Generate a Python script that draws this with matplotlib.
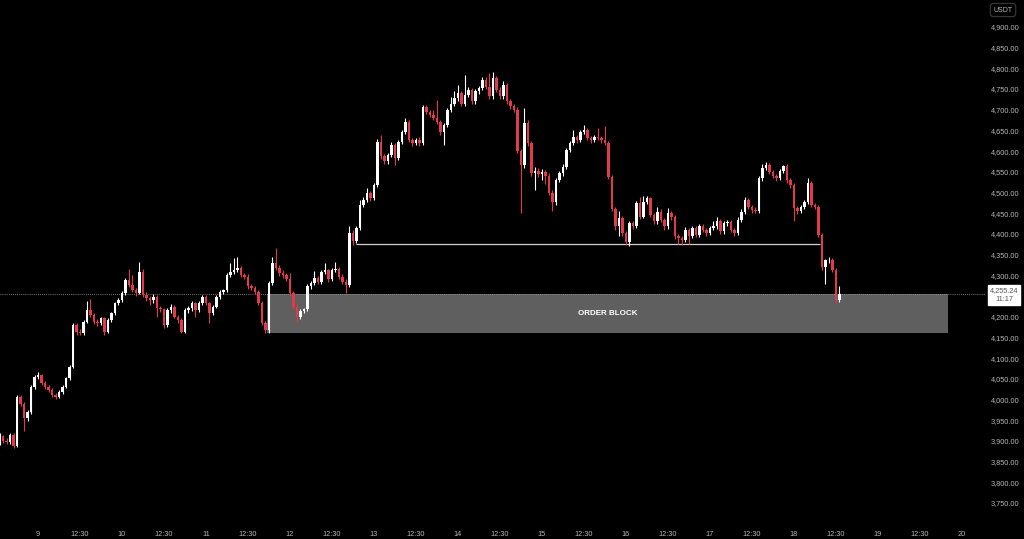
import matplotlib
matplotlib.use("Agg")
import matplotlib.pyplot as plt
from matplotlib.patches import Rectangle

plt.rcParams['font.family'] = ['Liberation Sans', 'DejaVu Sans']

# hourly candles, index 0 = first candle of day 9
start_hour = -11

opens = [3895, 3912, 3900, 3897, 3914, 3888, 4005, 3990, 3955, 3970, 4031,
         4055, 4059, 4039, 4031, 4023, 4011, 4007, 4019, 4031, 4051, 4079,
         4180, 4164, 4160, 4188, 4216, 4204, 4188, 4184, 4196, 4164, 4192, 4208,
         4232, 4240, 4257, 4289, 4277, 4265, 4257, 4309, 4253, 4245, 4240, 4248,
         4220, 4218, 4180, 4216, 4224, 4200, 4192, 4164, 4216, 4220, 4232, 4216,
         4232, 4248, 4232, 4208, 4224, 4248, 4260, 4264, 4301, 4309, 4313, 4317,
         4301, 4297, 4273, 4269, 4260, 4232, 4184, 4168, 4281, 4329, 4318, 4305,
         4300, 4292, 4257, 4224, 4200, 4214, 4218, 4273, 4281, 4293, 4285, 4309,
         4312, 4290, 4313, 4315, 4297, 4285, 4277, 4403, 4382, 4414, 4470, 4482,
         4498, 4486, 4518, 4623, 4587, 4575, 4591, 4615, 4583, 4623, 4647, 4671,
         4627, 4619, 4627, 4619, 4707, 4695, 4687, 4679, 4671, 4647, 4663, 4699,
         4715, 4728, 4740, 4715, 4735, 4748, 4720, 4744, 4752, 4772, 4756, 4732,
         4776, 4748, 4732, 4760, 4720, 4708, 4700, 4600, 4567, 4668, 4619, 4547,
         4553, 4545, 4550, 4540, 4500, 4476, 4530, 4546, 4562, 4603, 4619, 4635,
         4627, 4647, 4651, 4631, 4627, 4635, 4631, 4627, 4619, 4538, 4460, 4418,
         4438, 4402, 4381, 4426, 4418, 4474, 4442, 4478, 4486, 4446, 4430, 4454,
         4434, 4418, 4450, 4440, 4394, 4390, 4385, 4410, 4395, 4414, 4398, 4418,
         4410, 4402, 4414, 4418, 4430, 4406, 4426, 4428, 4410, 4402, 4434, 4454,
         4482, 4466, 4458, 4456, 4534, 4560, 4566, 4550, 4540, 4535, 4552, 4563,
         4530, 4518, 4462, 4455, 4466, 4478, 4522, 4470, 4466, 4398, 4320, 4336,
         4338, 4313, 4240]

highs = [3918, 3915, 3906, 3918, 3920, 4010, 4012, 3995, 3975, 4035, 4060,
         4066, 4062, 4044, 4035, 4027, 4015, 4022, 4034, 4055, 4084, 4186,
         4185, 4170, 4192, 4238, 4242, 4210, 4194, 4200, 4200, 4196, 4212, 4236,
         4246, 4262, 4294, 4315, 4300, 4270, 4332, 4315, 4260, 4250, 4255, 4252,
         4226, 4222, 4222, 4230, 4228, 4205, 4196, 4220, 4226, 4237, 4236, 4238,
         4253, 4252, 4236, 4228, 4252, 4264, 4268, 4306, 4330, 4342, 4345, 4322,
         4306, 4302, 4278, 4274, 4265, 4238, 4190, 4286, 4345, 4365, 4325, 4312,
         4305, 4305, 4262, 4230, 4218, 4222, 4278, 4286, 4310, 4298, 4314, 4330,
         4316, 4318, 4331, 4320, 4302, 4290, 4420, 4410, 4420, 4482, 4488, 4510,
         4504, 4524, 4630, 4639, 4592, 4596, 4623, 4620, 4628, 4652, 4679, 4676,
         4632, 4632, 4634, 4712, 4712, 4700, 4700, 4724, 4676, 4668, 4704, 4730,
         4745, 4760, 4746, 4784, 4754, 4753, 4750, 4758, 4780, 4778, 4788, 4790,
         4782, 4754, 4770, 4765, 4726, 4714, 4706, 4606, 4703, 4674, 4625, 4562,
         4560, 4556, 4555, 4546, 4505, 4536, 4551, 4568, 4608, 4624, 4650, 4640,
         4652, 4663, 4656, 4636, 4640, 4655, 4636, 4660, 4624, 4543, 4465, 4455,
         4443, 4407, 4430, 4432, 4480, 4490, 4492, 4492, 4490, 4450, 4465, 4459,
         4439, 4462, 4455, 4445, 4400, 4395, 4416, 4415, 4420, 4420, 4424, 4423,
         4415, 4420, 4430, 4440, 4435, 4432, 4434, 4433, 4415, 4440, 4460, 4488,
         4487, 4471, 4464, 4540, 4570, 4574, 4571, 4555, 4545, 4557, 4566, 4568,
         4535, 4523, 4467, 4470, 4482, 4534, 4527, 4475, 4471, 4403, 4340, 4345,
         4343, 4318, 4273]

lows = [3890, 3896, 3893, 3892, 3882, 3885, 3985, 3925, 3948, 3966, 4026,
        4050, 4034, 4026, 4018, 4006, 4002, 4004, 4014, 4027, 4047, 4075,
        4155, 4156, 4157, 4184, 4200, 4182, 4178, 4180, 4155, 4160, 4188, 4204,
        4228, 4236, 4252, 4272, 4260, 4250, 4254, 4248, 4238, 4228, 4234, 4200,
        4212, 4172, 4176, 4210, 4196, 4186, 4160, 4160, 4210, 4215, 4200, 4212,
        4228, 4228, 4186, 4204, 4220, 4244, 4255, 4260, 4296, 4304, 4308, 4296,
        4290, 4268, 4264, 4255, 4228, 4180, 4160, 4160, 4276, 4312, 4298, 4294,
        4286, 4250, 4218, 4188, 4195, 4208, 4214, 4268, 4276, 4280, 4280, 4304,
        4285, 4286, 4308, 4292, 4280, 4257, 4272, 4373, 4378, 4410, 4465, 4478,
        4480, 4482, 4514, 4580, 4568, 4570, 4586, 4567, 4578, 4618, 4642, 4622,
        4612, 4614, 4612, 4614, 4690, 4682, 4674, 4666, 4640, 4615, 4658, 4694,
        4710, 4722, 4708, 4710, 4730, 4714, 4715, 4738, 4747, 4750, 4726, 4727,
        4742, 4726, 4727, 4714, 4702, 4694, 4595, 4450, 4560, 4612, 4540, 4506,
        4538, 4530, 4520, 4494, 4455, 4470, 4525, 4540, 4556, 4598, 4614, 4620,
        4622, 4642, 4626, 4620, 4622, 4626, 4620, 4614, 4532, 4455, 4410, 4395,
        4396, 4374, 4370, 4412, 4414, 4436, 4438, 4473, 4440, 4424, 4425, 4428,
        4410, 4413, 4434, 4388, 4375, 4374, 4380, 4376, 4390, 4392, 4393, 4404,
        4396, 4397, 4409, 4413, 4400, 4401, 4420, 4404, 4396, 4397, 4429, 4449,
        4460, 4450, 4451, 4451, 4529, 4555, 4544, 4535, 4528, 4530, 4547, 4524,
        4512, 4430, 4448, 4450, 4461, 4473, 4464, 4460, 4392, 4314, 4280, 4330,
        4307, 4232, 4236]

closes = [3912, 3900, 3897, 3914, 3888, 4005, 3990, 3955, 3970, 4031, 4055,
          4059, 4039, 4031, 4023, 4011, 4007, 4019, 4031, 4051, 4079, 4180,
          4164, 4160, 4188, 4216, 4204, 4188, 4184, 4196, 4164, 4192, 4208, 4232,
          4240, 4257, 4289, 4277, 4265, 4257, 4309, 4253, 4245, 4240, 4248, 4220,
          4218, 4180, 4216, 4224, 4200, 4192, 4164, 4216, 4220, 4232, 4216, 4232,
          4248, 4232, 4208, 4224, 4248, 4260, 4264, 4301, 4309, 4313, 4317, 4301,
          4297, 4273, 4269, 4260, 4232, 4184, 4168, 4281, 4329, 4318, 4305, 4300,
          4292, 4257, 4224, 4200, 4214, 4218, 4273, 4281, 4293, 4285, 4309, 4312,
          4290, 4313, 4315, 4297, 4285, 4277, 4403, 4382, 4414, 4470, 4482, 4498,
          4486, 4518, 4623, 4587, 4575, 4591, 4615, 4583, 4623, 4647, 4671, 4627,
          4619, 4627, 4619, 4707, 4695, 4687, 4679, 4671, 4647, 4663, 4699, 4715,
          4728, 4740, 4715, 4735, 4748, 4720, 4744, 4752, 4772, 4756, 4732, 4776,
          4748, 4732, 4760, 4720, 4708, 4700, 4600, 4567, 4668, 4619, 4547, 4553,
          4545, 4550, 4540, 4500, 4476, 4530, 4546, 4562, 4603, 4619, 4635, 4627,
          4647, 4651, 4631, 4627, 4635, 4631, 4627, 4619, 4538, 4460, 4418, 4438,
          4402, 4381, 4426, 4418, 4474, 4442, 4478, 4486, 4446, 4430, 4454, 4434,
          4418, 4450, 4440, 4394, 4390, 4385, 4410, 4395, 4414, 4398, 4418, 4410,
          4402, 4414, 4418, 4430, 4406, 4426, 4428, 4410, 4402, 4434, 4454, 4482,
          4466, 4458, 4456, 4534, 4560, 4566, 4550, 4540, 4535, 4552, 4563, 4530,
          4518, 4462, 4455, 4466, 4478, 4522, 4470, 4466, 4398, 4320, 4336, 4338,
          4313, 4240, 4255.24]

last_price = 4255.24
last_time = "11:17"
support_level = 4375
order_block = (4160, 4255)          # bottom, top price
order_block_span = (65.4, 260)      # in hours from day 9
support_span = (91, 223.5)

y_ticks = [3750, 3800, 3850, 3900, 3950, 4000, 4050, 4100, 4150, 4200,
           4300, 4350, 4400, 4450, 4500, 4550, 4600, 4650, 4700, 4750,
           4800, 4850, 4900]
x_tick_hours = [0, 12, 24, 36, 48, 60, 72, 84, 96, 108, 120, 132, 144,
                156, 168, 180, 192, 204, 216, 228, 240, 252, 264]
x_tick_labels = ['9', '12:30', '10', '12:30', '11', '12:30', '12', '12:30',
                 '13', '12:30', '14', '12:30', '15', '12:30', '16', '12:30',
                 '17', '12:30', '18', '12:30', '19', '12:30', '20']

up_color = '#ffffff'
down_color = '#e2394d'
text_color = '#b5b5b5'

fig = plt.figure(figsize=(10.24, 5.39), dpi=100, facecolor='black')
ax = fig.add_axes([0, 19 / 539, 985 / 1024, 520 / 539])
ax.set_facecolor('black')

# order block zone
ax.add_patch(Rectangle((order_block_span[0], order_block[0]),
                       order_block_span[1] - order_block_span[0],
                       order_block[1] - order_block[0],
                       facecolor='#5f5f5f', edgecolor='none', zorder=1))
ax.text((order_block_span[0] + order_block_span[1]) / 2,
        sum(order_block) / 2, 'ORDER BLOCK', color='white', fontsize=5.8,
        fontweight='bold', ha='center', va='center', zorder=2)

# support line and last price line
ax.hlines(support_level, support_span[0], support_span[1], color='#d0d0d0',
          lw=0.9, zorder=2)
ax.axhline(last_price, color='#9a9a9a', lw=0.6, ls=(0, (1, 1.5)), zorder=2)

# candles
hours = [start_hour + i for i in range(len(closes))]
for h, o, hi, lo, c in zip(hours, opens, highs, lows, closes):
    col = up_color if c >= o else down_color
    ax.vlines(h, lo, hi, color=col, lw=0.8, zorder=3)
    body = max(abs(c - o), 1.5)
    ax.bar(h, body, bottom=min(o, c), width=0.72, color=col, lw=0, zorder=4)

ax.set_xlim(-10.86, 270.6)
ax.set_ylim(3709, 4965)

ax.yaxis.tick_right()
ax.set_yticks(y_ticks)
ax.set_yticklabels([f'{v:,.2f}' for v in y_ticks])
ax.set_xticks(x_tick_hours)
ax.set_xticklabels(x_tick_labels)
ax.tick_params(axis='both', length=0, colors=text_color, labelsize=5.3)
ax.tick_params(axis='y', pad=4)
ax.tick_params(axis='x', pad=8)
for s in ax.spines.values():
    s.set_visible(False)

# price scale currency tag
fig.text(1003 / 1024, 1 - 10 / 539, 'USDT', color=text_color, fontsize=5,
         ha='center', va='center',
         bbox=dict(boxstyle='round,pad=0.45', fc='black', ec='#3a3a3a', lw=0.8))

# last price tag
fig.text(1004 / 1024, 1 - 295 / 539, f'{last_price:,.2f}\n{last_time}',
         color='#555555', fontsize=5.3, ha='center', va='center',
         linespacing=1.3,
         bbox=dict(boxstyle='square,pad=0.3', fc='white', ec='white'))

fig.savefig('out.png', dpi=100, facecolor='black')
